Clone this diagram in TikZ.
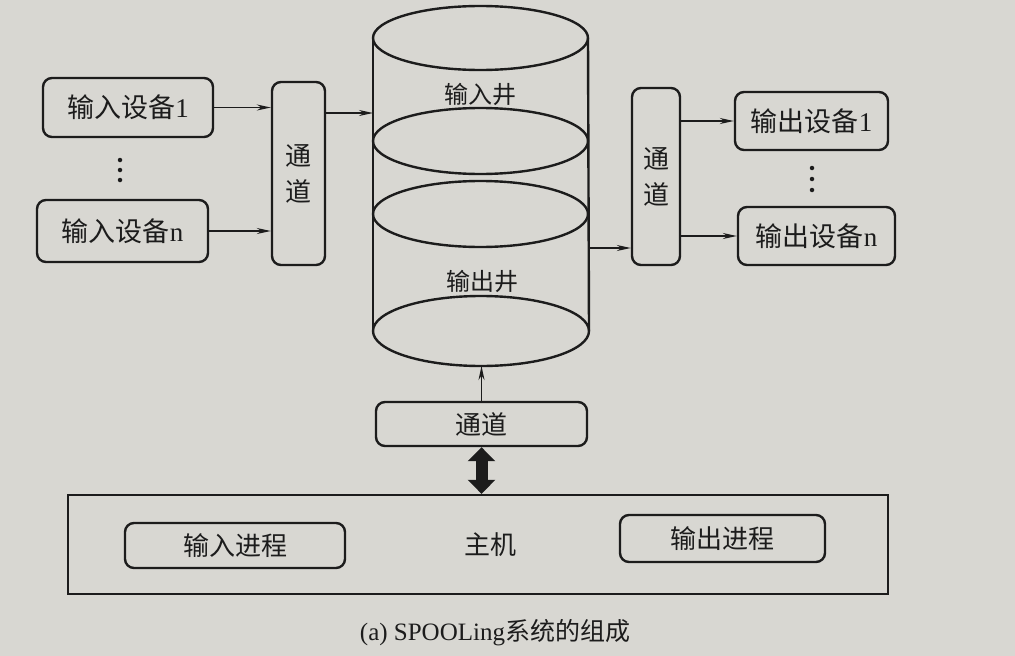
\documentclass[tikz,border=0pt]{standalone}
\usepackage{fontspec}
\setmainfont{Liberation Serif}
\newfontfamily\cjk{Noto Sans CJK SC}
\usetikzlibrary{arrows.meta}
\definecolor{paper}{RGB}{216,215,210}
\definecolor{ink}{RGB}{28,28,28}
\tikzset{
  box/.style={draw=ink, line width=2.4pt, rounded corners=9pt, inner sep=0pt, text=ink, font=\fontsize{26}{30}\selectfont},
  plainbox/.style={draw=ink, line width=2.4pt, inner sep=0pt},
  arr/.style={draw=ink, line width=1.4pt, -{Stealth[length=14pt,width=6pt]}},
  cyl/.style={draw=ink, line width=2.4pt},
  lbl/.style={font=\fontsize{24}{28}\selectfont, text=ink, inner sep=0pt},
  dotm/.style={fill=ink, circle, inner sep=0pt, minimum size=4.5pt}
}
\begin{document}
\begin{tikzpicture}[x=1pt,y=-1pt]
\useasboundingbox (0,0) rectangle (1015,656);
\fill[paper] (0,0) rectangle (1015,656);

% input devices
\node[box, minimum width=170pt, minimum height=59pt, font=\fontsize{27}{30}\selectfont] (in1) at (128,107.5) {{\cjk 输入设备}1};
\node[box, minimum width=171pt, minimum height=62pt, font=\fontsize{27}{30}\selectfont] (inn) at (122.5,231) {{\cjk 输入设备}n};
\node[dotm] (d1) at (120,160) {};
\node[dotm] (d2) at (120,170) {};
\node[dotm] (d3) at (120,180) {};

% left channel
\node[box, minimum width=53pt, minimum height=183pt, align=center] (ch1) at (298.5,173.5) {\cjk 通\\[6pt]\cjk 道};

% cylinder
\draw[cyl] (373,38) -- (373,331);
\draw[cyl] (588,38) -- (589,331);
\draw[cyl] (480.5,38) ellipse [x radius=107.5, y radius=32];
\draw[cyl] (480.5,141) ellipse [x radius=107.5, y radius=33];
\draw[cyl] (480.5,214) ellipse [x radius=107.5, y radius=33];
\draw[cyl] (481,331) ellipse [x radius=108, y radius=35];
\node[lbl] (wellin) at (480,94) {\cjk 输入井};
\node[lbl] (wellout) at (482,281) {\cjk 输出井};
\coordinate (cylL) at (373,113);
\coordinate (cylR) at (588,248);
\coordinate (cylB) at (482,366);

% right channel
\node[box, minimum width=48pt, minimum height=177pt, align=center] (ch2) at (656,176.5) {\cjk 通\\[6pt]\cjk 道};

% output devices
\node[box, minimum width=153pt, minimum height=58pt, font=\fontsize{27}{30}\selectfont] (out1) at (811.5,121) {{\cjk 输出设备}1};
\node[box, minimum width=157pt, minimum height=58pt, font=\fontsize{27}{30}\selectfont] (outn) at (816.5,236) {{\cjk 输出设备}n};
\node[dotm] (e1) at (812,168) {};
\node[dotm] (e2) at (812,179) {};
\node[dotm] (e3) at (812,190) {};

% bottom channel
\node[box, minimum width=211pt, minimum height=44pt] (ch3) at (481.5,424) {\cjk 通道};

% host
\node[plainbox, minimum width=820pt, minimum height=99pt] (host) at (478,544.5) {};
\node[box, minimum width=220pt, minimum height=45pt] (pin) at (235,545.5) {\cjk 输入进程};
\node[box, minimum width=205pt, minimum height=47pt] (pout) at (722.5,538.5) {\cjk 输出进程};
\node[lbl, font=\fontsize{26}{30}\selectfont] (hostlbl) at (490,545) {\cjk 主机};

% caption
\node[inner sep=0pt, text=ink, font=\fontsize{25}{28}\selectfont] (cap) at (495,633) {(a) SPOOLing{\cjk 系统的组成}};

% connectors
\draw[arr] (in1.east) -- (in1.east -| ch1.west);
\draw[arr] (inn.east) -- (inn.east -| ch1.west);
\draw[arr] (ch1.east |- cylL) -- (cylL);
\draw[arr] (cylR) -- (cylR -| ch2.west);
\draw[arr] (ch2.east |- out1.west) -- (out1.west);
\draw[arr] (ch2.east |- outn.west) -- (outn.west);
\draw[arr] (ch3.north) -- (ch3.north |- cylB);
\draw[draw=ink, line width=12pt, {Triangle[length=14pt,width=27pt]}-{Triangle[length=14pt,width=27pt]}] (ch3.south) -- (ch3.south |- host.north);
\end{tikzpicture}
\end{document}
